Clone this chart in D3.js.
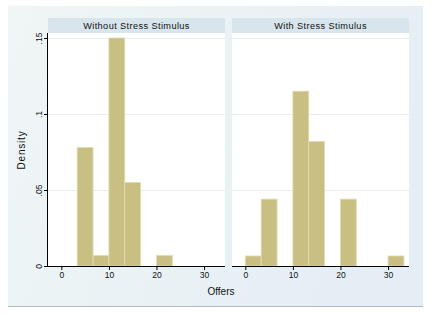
<!DOCTYPE html>
<html>
<head>
<meta charset="utf-8">
<script src="https://cdn.jsdelivr.net/npm/d3@7"></script>
<style>
  body { margin: 0; background: #fff; }
  text { font-family: "Liberation Sans", Arial, sans-serif; fill: #111; }
</style>
</head>
<body>
<svg id="chart" width="433" height="314"></svg>
<script>
// histogram bins (lower edges), width 10/3
var binLo = [0, 3.33, 6.67, 10, 13.33, 16.67, 20, 23.33, 26.67, 30];
var binWidth = 3.333;
var panels = ['Without Stress Stimulus', 'With Stress Stimulus'];
var withoutStress = [0, 0.078, 0.007, 0.150, 0.055, 0, 0.007, 0, 0, 0];
var withStress = [0.0066, 0.044, 0, 0.115, 0.082, 0, 0.044, 0, 0, 0.0066];
var xTicks = [0, 10, 20, 30];
var yTicks = [0, 0.05, 0.1, 0.15];
var yTickLabels = ['0', '.05', '.1', '.15'];

var svg = d3.select('#chart');
var defs = svg.append('defs');
var grad = defs.append('linearGradient').attr('id', 'bg')
	.attr('x1', '0').attr('y1', '0').attr('x2', '1').attr('y2', '0.3');
grad.append('stop').attr('offset', '0').attr('stop-color', '#f0f6f6');
grad.append('stop').attr('offset', '1').attr('stop-color', '#e4eef4');

// graph region
svg.append('rect').attr('x', 8).attr('y', 6).attr('width', 415).attr('height', 300).attr('fill', 'url(#bg)');
svg.append('line').attr('x1', 8).attr('x2', 423).attr('y1', 306.5).attr('y2', 306.5).attr('stroke', '#b5b9bb');

var plotTop = 33, plotBottom = 266;
var panelX = [48, 232], panelW = 177;
var y = d3.scaleLinear().domain([0, 0.15]).range([plotBottom, 38]);

var series = [withoutStress, withStress];

panels.forEach(function(title, i) {
	var x0 = panelX[i];
	var x = d3.scaleLinear().domain([-2.8, 34.4]).range([x0, x0 + panelW]);
	var g = svg.append('g');

	// strip
	g.append('rect').attr('x', x0).attr('y', 18).attr('width', panelW).attr('height', 15).attr('fill', '#d8e5ec');
	g.append('text').attr('x', x0 + panelW / 2).attr('y', 29).attr('text-anchor', 'middle')
		.attr('font-size', 9.2).attr('letter-spacing', 0.4).text(title);

	// plot region
	g.append('rect').attr('x', x0).attr('y', plotTop).attr('width', panelW).attr('height', plotBottom - plotTop).attr('fill', '#fff');

	// grid
	g.selectAll('line.grid').data(yTicks.slice(1)).enter().append('line')
		.attr('x1', x0).attr('x2', x0 + panelW)
		.attr('y1', d => Math.round(y(d)) + 0.5).attr('y2', d => Math.round(y(d)) + 0.5)
		.attr('stroke', '#eaeeee').attr('stroke-width', 1);

	// bars
	var bins = binLo.map((lo, k) => ({lo: lo, v: series[i][k]})).filter(d => d.v > 0);
	g.selectAll('rect.bar').data(bins).enter().append('rect')
		.attr('x', d => x(d.lo)).attr('width', d => x(d.lo + binWidth) - x(d.lo))
		.attr('y', d => y(d.v)).attr('height', d => plotBottom - y(d.v))
		.attr('fill', '#c9bf83').attr('stroke', '#e2dcb4').attr('stroke-width', 0.8);

	// x axis
	var xa = g.append('g').attr('transform', 'translate(0,' + plotBottom + ')')
		.call(d3.axisBottom(x).tickValues(xTicks).tickSize(4).tickPadding(2));
	xa.select('.domain').attr('d', 'M' + x0 + ',0.5H' + (x0 + panelW)).attr('stroke', '#000');
	xa.selectAll('text').attr('font-size', 8.5).attr('font-family', '"Liberation Sans", Arial, sans-serif').attr('fill', '#111');
});

// y axis (left panel only)
var ya = svg.append('g').attr('transform', 'translate(' + panelX[0] + ',0)')
	.call(d3.axisLeft(y).tickValues(yTicks).tickFormat((d, k) => yTickLabels[k]).tickSize(4).tickPadding(2));
ya.select('.domain').attr('d', 'M-0.5,' + plotTop + 'V' + (plotBottom + 0.5)).attr('stroke', '#000');
ya.selectAll('.tick text')
	.attr('font-size', 8.5).attr('font-family', '"Liberation Sans", Arial, sans-serif').attr('fill', '#111')
	.attr('text-anchor', 'middle').attr('dy', 0).attr('x', 0)
	.attr('transform', 'translate(-6,0) rotate(-90)');

// axis titles
svg.append('text').attr('transform', 'translate(25,150) rotate(-90)').attr('text-anchor', 'middle')
	.attr('font-size', 10).attr('letter-spacing', 0.8).text('Density');
svg.append('text').attr('x', 221).attr('y', 295).attr('text-anchor', 'middle')
	.attr('font-size', 10).text('Offers');
</script>
</body>
</html>
